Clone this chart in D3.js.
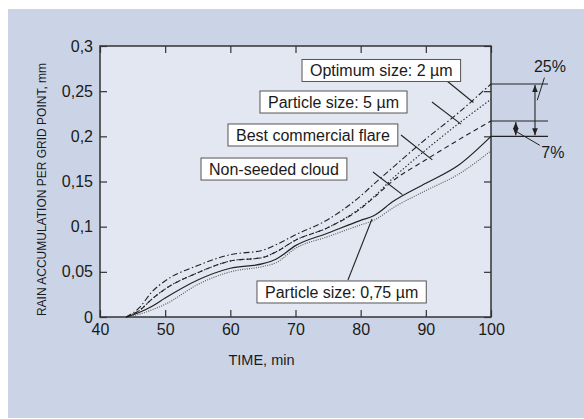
<!DOCTYPE html>
<html>
<head>
<meta charset="utf-8">
<script src="https://cdn.jsdelivr.net/npm/d3@7"></script>
<style>
  html, body { margin: 0; padding: 0; background: #fff; }
  svg { display: block; font-family: "Liberation Sans", Arial, sans-serif; }
</style>
</head>
<body>
<div id="chart"></div>
<script>
// time axis (min)
const times = [44, 46, 48, 50, 55, 60, 65, 67, 70, 75, 80, 82, 85, 90, 95, 100];

// rain accumulation per grid point, mm
const optimum2um   = [0, 0.010, 0.028, 0.040, 0.057, 0.069, 0.074, 0.080, 0.091, 0.108, 0.134, 0.147, 0.166, 0.197, 0.226, 0.258];
const particle5um  = [0, 0.007, 0.020, 0.031, 0.049, 0.062, 0.066, 0.072, 0.085, 0.099, 0.121, 0.133, 0.154, 0.185, 0.214, 0.241];
const bestFlare    = [0, 0.007, 0.020, 0.031, 0.049, 0.062, 0.066, 0.072, 0.085, 0.099, 0.120, 0.132, 0.151, 0.174, 0.196, 0.217];
const nonSeeded    = [0, 0.005, 0.012, 0.021, 0.041, 0.054, 0.059, 0.064, 0.079, 0.093, 0.107, 0.112, 0.128, 0.148, 0.168, 0.200];
const particle075  = [0, 0.003, 0.008, 0.014, 0.036, 0.050, 0.056, 0.060, 0.076, 0.089, 0.102, 0.107, 0.121, 0.140, 0.158, 0.184];

const xTicks = [40, 50, 60, 70, 80, 90, 100];
const yTicks = [0, 0.05, 0.1, 0.15, 0.2, 0.25, 0.3];
const yTickLabels = ["0", "0,05", "0,1", "0,15", "0,2", "0,25", "0,3"];

// label boxes: text, left edge (min), centre (mm), leader from/to
const labels = [
  { text: "Optimum size: 2 µm",     x: 71.0,  y: 0.2729, lead: [[93.25, 0.2613], [97.3, 0.2375]] },
  { text: "Particle size: 5 µm",    x: 64.55, y: 0.2380, lead: [[90.94, 0.2380], [95.4, 0.2135]] },
  { text: "Best commercial flare",  x: 59.64, y: 0.2015, lead: [[86.19, 0.2015], [91.0, 0.1740]] },
  { text: "Non-seeded cloud",       x: 55.5,  y: 0.1638, lead: [[81.89, 0.1605], [86.4, 0.1355]] },
  { text: "Particle size: 0,75 µm", x: 64.09, y: 0.0277, lead: [[78.05, 0.0410], [81.74, 0.1085]] }
];

const width = 584, height = 419;
const margin = { left: 100, top: 46, right: 93, bottom: 102 };

const svg = d3.select("#chart").append("svg")
  .attr("width", width)
  .attr("height", height);

// outer panel
svg.append("rect")
  .attr("x", 8).attr("y", 9)
  .attr("width", width - 8).attr("height", height - 10)
  .attr("fill", "#cbd4e6");

const x = d3.scaleLinear().domain([40, 100]).range([margin.left, width - margin.right]);
const y = d3.scaleLinear().domain([0, 0.3]).range([height - margin.bottom, margin.top]);

// plot area
svg.append("rect")
  .attr("x", x(40)).attr("y", y(0.3))
  .attr("width", x(100) - x(40)).attr("height", y(0) - y(0.3))
  .attr("fill", "#e2e7f2");

function styleAxis(g) {
  g.select(".domain").remove();
  g.selectAll(".tick line").attr("stroke", "#333").attr("stroke-width", 1.2);
  g.selectAll(".tick text").attr("fill", "#1a1a1a").style("font-size", "16px");
}

svg.append("g")
  .attr("transform", `translate(0,${y(0)})`)
  .call(d3.axisBottom(x).tickValues(xTicks).tickSize(-7).tickPadding(7).tickFormat(d3.format("d")))
  .call(styleAxis);

svg.append("g")
  .attr("transform", `translate(0,${y(0.3)})`)
  .call(d3.axisTop(x).tickValues(xTicks).tickSize(-7).tickFormat(""))
  .call(styleAxis);

svg.append("g")
  .attr("transform", `translate(${x(40)},0)`)
  .call(d3.axisLeft(y).tickValues(yTicks).tickSize(-7).tickPadding(7)
    .tickFormat((d, i) => yTickLabels[i]))
  .call(styleAxis);

svg.append("g")
  .attr("transform", `translate(${x(100)},0)`)
  .call(d3.axisRight(y).tickValues(yTicks).tickSize(-7).tickFormat(""))
  .call(styleAxis);

// frame
svg.append("rect")
  .attr("x", x(40)).attr("y", y(0.3))
  .attr("width", x(100) - x(40)).attr("height", y(0) - y(0.3))
  .attr("fill", "none")
  .attr("stroke", "#333")
  .attr("stroke-width", 1.5);

// axis titles
svg.append("text")
  .attr("x", x(70) - 34)
  .attr("y", 365)
  .attr("text-anchor", "middle")
  .attr("fill", "#1a1a1a")
  .style("font-size", "14.5px")
  .text("TIME, min");

svg.append("text")
  .attr("transform", `translate(46,${(y(0) + y(0.3)) / 2 + 8}) rotate(-90)`)
  .attr("text-anchor", "middle")
  .attr("fill", "#1a1a1a")
  .style("font-size", "12px")
  .text("RAIN ACCUMULATION PER GRID POINT, mm");

// curves
const line = d3.line()
  .x((d, i) => x(times[i]))
  .y(d => y(d))
  .curve(d3.curveMonotoneX);

const series = [
  { values: particle075, stroke: "#555", dash: "1,1.3", w: 1.1 },
  { values: nonSeeded,   stroke: "#222", dash: null, w: 1.2 },
  { values: bestFlare,   stroke: "#222", dash: "5,3.5", w: 1.1 },
  { values: particle5um, stroke: "#222", dash: "1.4,2", w: 1.1 },
  { values: optimum2um,  stroke: "#222", dash: "6,2.5,1.5,2.5", w: 1.1 }
];

svg.append("g")
  .selectAll("path")
  .data(series)
  .join("path")
  .attr("d", d => line(d.values))
  .attr("fill", "none")
  .attr("stroke", d => d.stroke)
  .attr("stroke-width", d => d.w)
  .attr("stroke-dasharray", d => d.dash);

// leader lines
svg.append("g")
  .selectAll("line")
  .data(labels)
  .join("line")
  .attr("x1", d => x(d.lead[0][0])).attr("y1", d => y(d.lead[0][1]))
  .attr("x2", d => x(d.lead[1][0])).attr("y2", d => y(d.lead[1][1]))
  .attr("stroke", "#222")
  .attr("stroke-width", 1.1);

// label boxes
const boxes = svg.append("g")
  .selectAll("g")
  .data(labels)
  .join("g")
  .attr("transform", d => `translate(${x(d.x)},${y(d.y)})`);

boxes.append("text")
  .attr("x", 8)
  .attr("dy", "0.36em")
  .attr("fill", "#1a1a1a")
  .style("font-size", "16px")
  .text(d => d.text);

boxes.insert("rect", "text")
  .attr("x", 0)
  .attr("y", -11)
  .attr("height", 22)
  .attr("width", function () {
    const t = d3.select(this.parentNode).select("text").node();
    return t.getComputedTextLength() + 16;
  })
  .attr("fill", "#fff")
  .attr("stroke", "#555")
  .attr("stroke-width", 1);

// difference markers on the right
const refLevels = [0.258, 0.217, 0.2];
svg.append("g")
  .selectAll("line")
  .data(refLevels)
  .join("line")
  .attr("x1", x(100)).attr("x2", x(108.75))
  .attr("y1", d => y(d)).attr("y2", d => y(d))
  .attr("stroke", "#222")
  .attr("stroke-width", 1.1);

const defs = svg.append("defs");
defs.append("marker")
  .attr("id", "arrow")
  .attr("viewBox", "0 0 10 10")
  .attr("refX", 10).attr("refY", 5)
  .attr("markerWidth", 7).attr("markerHeight", 7)
  .attr("markerUnits", "userSpaceOnUse")
  .attr("orient", "auto-start-reverse")
  .append("path")
  .attr("d", "M0,1 L10,5 L0,9 z")
  .attr("fill", "#222");

const diffs = [
  { text: "25%", at: 106.75, from: 0.258, to: 0.2, tx: 109.05, ty: 0.2715, lead: [[108.2, 0.265], [107.1, 0.240]] },
  { text: "7%",  at: 103.8,  from: 0.217, to: 0.2, tx: 109.5,  ty: 0.1765, lead: [[103.95, 0.205], [107.5, 0.190]] }
];

svg.append("g")
  .selectAll("line")
  .data(diffs)
  .join("line")
  .attr("x1", d => x(d.at)).attr("x2", d => x(d.at))
  .attr("y1", d => y(d.from) + 1).attr("y2", d => y(d.to) - 1)
  .attr("stroke", "#222")
  .attr("stroke-width", 1.1)
  .attr("marker-start", "url(#arrow)")
  .attr("marker-end", "url(#arrow)");

svg.append("g")
  .selectAll("line")
  .data(diffs)
  .join("line")
  .attr("x1", d => x(d.lead[0][0])).attr("y1", d => y(d.lead[0][1]))
  .attr("x2", d => x(d.lead[1][0])).attr("y2", d => y(d.lead[1][1]))
  .attr("stroke", "#222")
  .attr("stroke-width", 1);

svg.append("g")
  .selectAll("text")
  .data(diffs)
  .join("text")
  .attr("x", d => x(d.tx))
  .attr("y", d => y(d.ty))
  .attr("text-anchor", "middle")
  .attr("fill", "#1a1a1a")
  .style("font-size", "16px")
  .text(d => d.text);
</script>
</body>
</html>
